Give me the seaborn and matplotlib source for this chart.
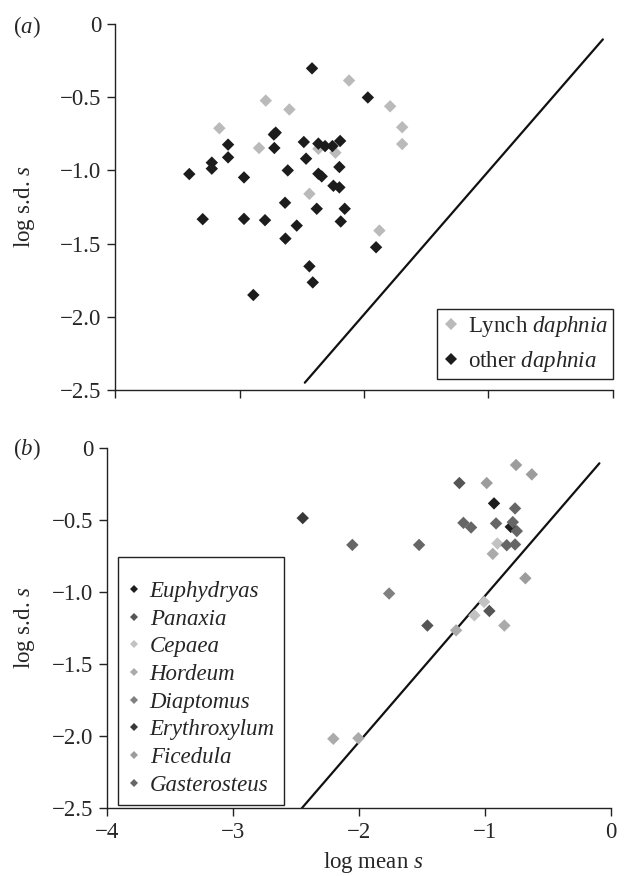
import matplotlib
matplotlib.use("Agg")
import matplotlib.pyplot as plt
from matplotlib.lines import Line2D
import seaborn as sns
import pandas as pd

# ---------------- data ----------------
lynch_x = [-2.120, -2.790, -2.600, -3.163, -2.844, -2.367, -2.230, -2.439, -1.790, -1.693, -1.693, -1.876]
lynch_y = [-0.386, -0.523, -0.584, -0.712, -0.847, -0.852, -0.879, -1.160, -0.562, -0.705, -0.820, -1.411]

other_x = [-2.418, -1.969, -3.405, -3.224, -3.224, -3.093, -3.093, -2.965, -3.297, -2.965, -2.796, -2.890,
           -2.710, -2.725, -2.721, -2.613, -2.635, -2.632, -2.541, -2.484, -2.466, -2.380, -2.439, -2.412,
           -2.367, -2.367, -2.340, -2.313, -2.254, -2.192, -2.198, -2.246, -2.198, -2.155, -2.187, -1.903]
other_y = [-0.303, -0.502, -1.025, -0.947, -0.988, -0.824, -0.911, -1.048, -1.333, -1.331, -1.340, -1.851,
           -0.742, -0.755, -0.847, -1.000, -1.221, -1.466, -1.377, -0.806, -0.920, -1.262, -1.655, -1.765,
           -0.817, -1.023, -1.041, -0.834, -0.834, -0.799, -0.977, -1.105, -1.116, -1.262, -1.349, -1.525]

species = ["Euphydryas", "Panaxia", "Cepaea", "Hordeum", "Diaptomus", "Erythroxylum", "Ficedula", "Gasterosteus"]
species_colors = ["#1e1e1e", "#555555", "#c2c2c2", "#ababab", "#808080", "#383838", "#9c9c9c", "#666666"]
sp_x = {
    "Euphydryas":   [-0.929, -0.796],
    "Panaxia":      [-1.458, -0.966, -1.204],
    "Cepaea":       [-1.008, -1.085, -0.902],
    "Hordeum":      [-1.230, -0.847, -2.205, -2.006, -0.939],
    "Diaptomus":    [-1.762],
    "Erythroxylum": [-2.448],
    "Ficedula":     [-0.754, -0.629, -0.987, -0.680],
    "Gasterosteus": [-2.054, -1.524, -0.762, -1.172, -1.111, -0.913, -0.780, -0.748, -0.828, -0.762],
}
sp_y = {
    "Euphydryas":   [-0.386, -0.549],
    "Panaxia":      [-1.233, -1.132, -0.245],
    "Cepaea":       [-1.069, -1.162, -0.664],
    "Hordeum":      [-1.266, -1.233, -2.018, -2.014, -0.736],
    "Diaptomus":    [-1.011],
    "Erythroxylum": [-0.488],
    "Ficedula":     [-0.120, -0.185, -0.245, -0.905],
    "Gasterosteus": [-0.674, -0.674, -0.421, -0.521, -0.553, -0.525, -0.516, -0.578, -0.676, -0.671],
}

line_a_x = [-2.476, -0.079]
line_a_y = [-2.450, -0.105]
line_b_x = [-2.456, -0.092]
line_b_y = [-2.500, -0.108]

x_ticks = [-4, -3, -2, -1, 0]
x_ticklabels = ["\u22124", "\u22123", "\u22122", "\u22121", "0"]
y_ticks = [0, -0.5, -1.0, -1.5, -2.0, -2.5]
y_ticklabels = ["0", "\u22120.5", "\u22121.0", "\u22121.5", "\u22122.0", "\u22122.5"]

# ---------------- style ----------------
sns.set_style("ticks")
plt.rcParams["font.family"] = ["Liberation Serif", "DejaVu Serif"]
plt.rcParams["mathtext.fontset"] = "custom"
plt.rcParams["mathtext.rm"] = "Liberation Serif"
plt.rcParams["mathtext.it"] = "Liberation Serif:italic"
FS = 16.5

fig = plt.figure(figsize=(6.26, 8.76), dpi=100)
W, H = 626, 876
ax_a = fig.add_axes([115.3 / W, 1 - 390 / H, (612.7 - 115.3) / W, (390 - 24) / H])
ax_b = fig.add_axes([107.3 / W, 1 - 808.3 / H, (611 - 107.3) / W, (808.3 - 447.7) / H])

# panel a
df_a = pd.DataFrame({
    "x": lynch_x + other_x,
    "y": lynch_y + other_y,
    "group": ["Lynch"] * len(lynch_x) + ["other"] * len(other_x),
})
pal_a = {"Lynch": "#bababa", "other": "#1c1c1c"}
sns.scatterplot(data=df_a, x="x", y="y", hue="group", palette=pal_a, marker="D",
                s=40, linewidth=0, ax=ax_a, legend=False, zorder=3)
sns.lineplot(x=line_a_x, y=line_a_y, ax=ax_a, color="#111111", linewidth=1.6, zorder=2)

# panel b
rows = []
for sp in species:
    for xv, yv in zip(sp_x[sp], sp_y[sp]):
        rows.append((xv, yv, sp))
df_b = pd.DataFrame(rows, columns=["x", "y", "species"])
pal_b = dict(zip(species, species_colors))
sns.scatterplot(data=df_b, x="x", y="y", hue="species", palette=pal_b, marker="D",
                s=40, linewidth=0, ax=ax_b, legend=False, zorder=3)
sns.lineplot(x=line_b_x, y=line_b_y, ax=ax_b, color="#111111", linewidth=1.6, zorder=2)

for ax in (ax_a, ax_b):
    ax.set_xlim(-4, 0)
    ax.set_ylim(-2.5, 0)
    ax.set_yticks(y_ticks)
    ax.set_yticklabels(y_ticklabels, fontsize=FS)
    ax.set_xticks(x_ticks)
    sns.despine(ax=ax)
    for sp in ("left", "bottom"):
        ax.spines[sp].set_color("#222222")
        ax.spines[sp].set_linewidth(1.0)
    ax.tick_params(direction="out", length=6, width=1.0, color="#222222", pad=4)
    ax.set_ylabel(r"log s.d. $s$", fontsize=FS)

ax_a.set_xticklabels([])
ax_a.set_xlabel("")
ax_b.set_xticklabels(x_ticklabels, fontsize=FS)
ax_b.set_xlabel(r"log mean $s$", fontsize=FS)

ax_a.yaxis.set_label_coords((37 - 115.3) / (612.7 - 115.3), 0.5)
ax_b.yaxis.set_label_coords((37 - 107.3) / (611 - 107.3), 0.5)
ax_b.xaxis.set_label_coords((373.3 - 107.3) / (611 - 107.3), -(850 - 808.3) / (808.3 - 447.7))

fig.text(13 / W, 1 - 27 / H, r"($a$)", fontsize=FS, va="center", ha="left")
fig.text(13 / W, 1 - 449 / H, r"($b$)", fontsize=FS, va="center", ha="left")

# legends
h_a = [Line2D([], [], linestyle="none", marker="D", markersize=6, markeredgewidth=0, color=pal_a["Lynch"]),
       Line2D([], [], linestyle="none", marker="D", markersize=6, markeredgewidth=0, color=pal_a["other"])]
leg_a = ax_a.legend(h_a, [r"Lynch $daphnia$", r"other $daphnia$"], loc="lower right",
                    bbox_to_anchor=(613.3 / W, 1 - 379 / H), bbox_transform=fig.transFigure,
                    borderaxespad=0, fontsize=FS, frameon=True, fancybox=False, framealpha=1,
                    handlelength=0.8, handletextpad=0.35, labelspacing=0.42, borderpad=0.22)
leg_a.get_frame().set_edgecolor("#222222")
leg_a.get_frame().set_linewidth(1.0)

h_b = [Line2D([], [], linestyle="none", marker="D", markersize=4, markeredgewidth=0, color=c)
       for c in species_colors]
leg_b = ax_b.legend(h_b, species, loc="lower left",
                    bbox_to_anchor=(118.3 / W, 1 - 805 / H), bbox_transform=fig.transFigure,
                    borderaxespad=0, fontsize=FS, frameon=True, fancybox=False, framealpha=1,
                    handlelength=0.55, handletextpad=0.42, labelspacing=0.29, borderpad=0.4,
                    title=" ", title_fontsize=6, prop={"style": "italic", "size": FS})
leg_b.get_frame().set_edgecolor("#222222")
leg_b.get_frame().set_linewidth(1.0)

fig.savefig("out.png", dpi=100)
